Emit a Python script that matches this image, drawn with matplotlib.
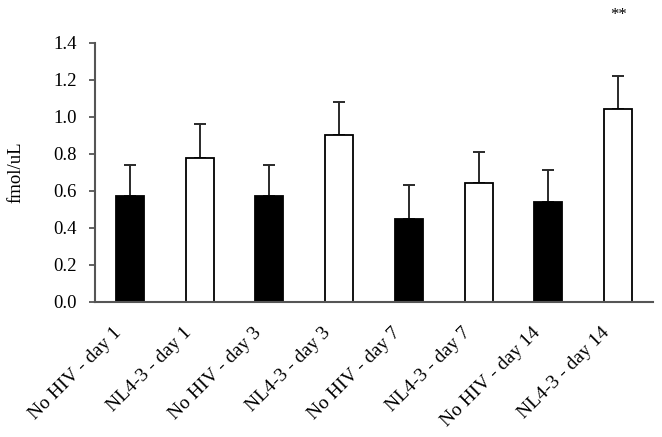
import matplotlib
matplotlib.use("Agg")
import matplotlib.pyplot as plt
import matplotlib.transforms as mtransforms
import numpy as np

categories = ["No HIV - day 1", "NL4-3 - day 1", "No HIV - day 3", "NL4-3 - day 3",
              "No HIV - day 7", "NL4-3 - day 7", "No HIV - day 14", "NL4-3 - day 14"]
values = [0.57, 0.78, 0.57, 0.90, 0.45, 0.64, 0.54, 1.04]
errors = [0.17, 0.18, 0.17, 0.18, 0.18, 0.17, 0.17, 0.18]
colors = ["black", "white", "black", "white", "black", "white", "black", "white"]
yticks = [0.0, 0.2, 0.4, 0.6, 0.8, 1.0, 1.2, 1.4]
ytick_labels = ["0.0", "0.2", "0.4", "0.6", "0.8", "1.0", "1.2", "1.4"]
ylabel = "fmol/uL"
sig_label = "**"
sig_index = 7

plt.rcParams['font.family'] = ['Liberation Serif', 'DejaVu Serif']

fig = plt.figure(figsize=(6.62, 4.37), dpi=100)
ax = fig.add_axes([95/662, 1 - 302/437, (653 - 95)/662, (302 - 42.7)/437])

x = np.arange(len(categories))
ax.bar(x, values, width=0.4, color=colors, edgecolor="black", linewidth=1.3, zorder=2)
ax.errorbar(x, values, yerr=[np.zeros(len(errors)), errors], fmt="none",
            ecolor="#2a2a2a", elinewidth=1.4, capsize=4.5, capthick=1.4, zorder=1)

ax.set_xlim(-0.5, len(categories) - 0.5)
ax.set_ylim(0, 1.4)
ax.set_yticks(yticks)
ax.set_yticklabels(ytick_labels, fontsize=13.5)
ax.set_xticks(x)
ax.set_xticklabels(categories, rotation=45, ha="right", fontsize=14)
ax.tick_params(axis="x", length=0, pad=16)
ax.tick_params(axis="y", direction="out", length=4, width=1.3, color="#555555", pad=9)

offset = mtransforms.ScaledTranslation(-5/100, 0, fig.dpi_scale_trans)
for lbl in ax.get_xticklabels():
    lbl.set_transform(lbl.get_transform() + offset)

for s in ["top", "right"]:
    ax.spines[s].set_visible(False)
for s in ["left", "bottom"]:
    ax.spines[s].set_color("#555555")
    ax.spines[s].set_linewidth(1.5)

ax.set_ylabel(ylabel, fontsize=13.5, labelpad=21)

ax.text(x[sig_index], values[sig_index] + errors[sig_index] + 0.33, sig_label,
        ha="center", va="center", fontsize=12, clip_on=False)

fig.savefig("out.png", dpi=100)
